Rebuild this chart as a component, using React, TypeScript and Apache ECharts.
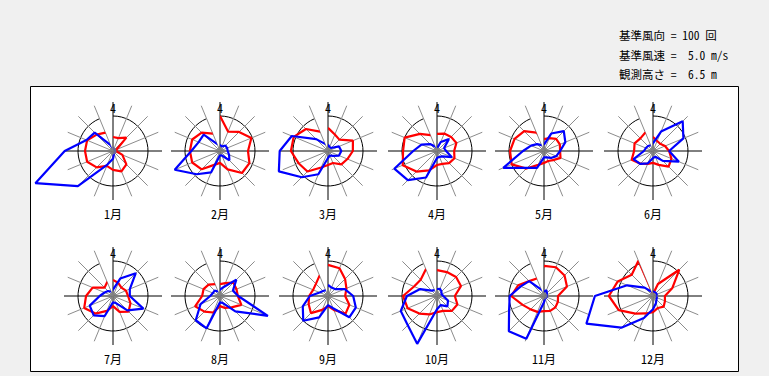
import React, { useEffect, useRef } from "react";
import * as echarts from "echarts";

const DIRS = ["N", "NNE", "NE", "ENE", "E", "ESE", "SE", "SSE", "S", "SSW", "SW", "WSW", "W", "WNW", "NW", "NNW"];
const MONTHS = ["1月", "2月", "3月", "4月", "5月", "6月", "7月", "8月", "9月", "10月", "11月", "12月"];
const NORTH_LABEL = "4";
const INFO_LINES = ["基準風向 = 100 回", "基準風速 =  5.0 m/s", "観測高さ =  6.5 m"];
const REF_FREQ = 100;
const REF_SPEED = 5.0;

// wind direction frequency (回)
const freq01 = [40, 40, 54, 11, 9, 29, 54, 63, 54, 46, 66, 80, 80, 80, 66, 57];
const freq02 = [100, 60, 77, 97, 80, 91, 89, 57, 34, 43, 74, 86, 86, 86, 74, 54];
const freq03 = [66, 51, 46, 77, 71, 60, 54, 37, 40, 51, 83, 91, 106, 106, 89, 60];
const freq04 = [49, 54, 57, 60, 49, 54, 49, 40, 40, 60, 83, 106, 97, 100, 69, 49];
const freq05 = [34, 40, 49, 49, 46, 51, 37, 31, 34, 43, 71, 100, 97, 91, 80, 57];
const freq06 = [40, 31, 29, 37, 46, 57, 63, 43, 34, 40, 51, 66, 54, 57, 51, 57];
const freq07 = [46, 40, 34, 40, 43, 54, 63, 49, 29, 46, 71, 89, 77, 63, 34, 43];
const freq08 = [34, 40, 54, 51, 51, 66, 46, 37, 29, 51, 63, 77, 51, 51, 46, 37];
const freq09 = [89, 86, 69, 57, 49, 66, 71, 43, 29, 43, 69, 60, 54, 46, 49, 63];
const freq10 = [74, 74, 77, 74, 51, 63, 60, 46, 46, 57, 71, 91, 97, 71, 66, 83];
const freq11 = [86, 89, 83, 71, 40, 43, 46, 46, 43, 49, 54, 66, 94, 80, 60, 54];
const freq12 = [6, 37, 106, 60, 34, 37, 43, 37, 46, 54, 71, 106, 126, 109, 86, 109];

// mean wind speed (m/s)
const speed01 = [0.3, 0.3, 0.3, 0.3, 0.3, 0.3, 0.3, 0.4, 1.1, 2.1, 7.1, 12.0, 6.9, 4.1, 3.7, 0.9];
const speed02 = [0.9, 0.7, 1.1, 1.1, 1.1, 1.4, 1.9, 0.7, 0.6, 3.3, 4.7, 7.0, 4.1, 3.3, 3.3, 1.1];
const speed03 = [0.9, 0.6, 0.6, 1.7, 1.9, 1.7, 1.0, 0.7, 1.0, 3.6, 5.3, 7.6, 6.9, 5.6, 2.4, 1.1];
const speed04 = [0.4, 1.4, 2.4, 1.1, 1.3, 2.3, 1.1, 0.9, 1.0, 4.1, 5.9, 6.6, 3.4, 2.4, 1.4, 0.7];
const speed05 = [0.9, 2.7, 4.0, 3.3, 2.3, 1.9, 1.4, 1.0, 0.9, 2.6, 3.4, 6.3, 3.0, 2.0, 1.4, 0.9];
const speed06 = [1.1, 3.0, 6.0, 4.7, 2.3, 4.0, 2.0, 0.9, 1.0, 1.9, 2.6, 3.0, 1.3, 1.1, 1.0, 0.9];
const speed07 = [0.9, 2.7, 4.6, 2.6, 2.4, 4.7, 2.9, 1.1, 0.9, 3.1, 3.9, 3.6, 1.9, 1.3, 1.0, 0.7];
const speed08 = [0.9, 1.4, 3.3, 2.0, 2.6, 7.4, 3.1, 1.1, 0.9, 5.0, 4.9, 3.0, 1.4, 1.1, 1.1, 0.7];
const speed09 = [1.6, 1.3, 1.4, 2.6, 3.6, 4.3, 4.3, 1.9, 1.3, 3.3, 5.0, 3.9, 2.6, 1.3, 1.0, 0.9];
const speed10 = [1.0, 1.1, 0.9, 0.7, 0.9, 1.7, 2.1, 1.4, 1.9, 7.4, 5.9, 5.6, 4.3, 2.6, 1.1, 0.9];
const speed11 = [0.6, 0.9, 0.6, 0.4, 0.4, 0.4, 0.4, 0.4, 0.9, 6.6, 7.1, 5.4, 4.9, 3.6, 3.0, 1.0];
const speed12 = [0.7, 0.6, 0.6, 0.6, 0.4, 0.6, 0.7, 1.1, 1.9, 3.4, 6.4, 10.3, 8.3, 4.0, 1.7, 0.7];

const FREQS = [freq01, freq02, freq03, freq04, freq05, freq06, freq07, freq08, freq09, freq10, freq11, freq12];
const SPEEDS = [speed01, speed02, speed03, speed04, speed05, speed06, speed07, speed08, speed09, speed10, speed11, speed12];

const FONT = "'Noto Sans Mono CJK JP', 'Noto Sans CJK JP', 'Noto Sans', sans-serif";

export default function App() {
  const ref = useRef<HTMLDivElement>(null);

  useEffect(() => {
    document.body.style.margin = "0";
    if (!ref.current) return;
    const chart = echarts.init(ref.current, null, { renderer: "svg" });

    const colX = [113, 220, 328, 437, 544, 653];
    const rowY = [151, 296];
    const R = 49; // spoke length (px)
    const REF_R = 35; // reference circle radius (px)
    const DATA_R = 120; // data polar radius (px)
    const DECO_MAX = (REF_FREQ * R) / REF_R;
    const DATA_MAX = (REF_FREQ * DATA_R) / REF_R;

    const polar: any[] = [];
    const angleAxis: any[] = [];
    const radiusAxis: any[] = [];
    const series: any[] = [];
    const graphic: any[] = [
      {
        type: "rect",
        z: 0,
        shape: { x: 30.5, y: 86.5, width: 708, height: 285 },
        style: { fill: "#ffffff", stroke: "#000000", lineWidth: 1 },
      },
    ];

    INFO_LINES.forEach((t, i) => {
      graphic.push({
        type: "text",
        z: 10,
        x: 619,
        y: 35 + i * 19.5,
        style: { text: t, fontSize: 11.5, fontFamily: FONT, fill: "#000", textVerticalAlign: "middle", textAlign: "left" },
      });
    });

    const spokeColors = DIRS.map((_, i) => (i % 4 === 0 ? "#000000" : "#8c8c8c"));

    // decoration polars (spokes + reference circle): indices 0..11
    MONTHS.forEach((m, k) => {
      const cx = colX[k % 6];
      const cy = rowY[Math.floor(k / 6)];
      polar.push({ center: [cx, cy], radius: R });
      angleAxis.push({
        polarIndex: k,
        type: "category",
        data: DIRS,
        startAngle: 90,
        clockwise: true,
        boundaryGap: false,
        axisLine: { show: false },
        axisTick: { show: false },
        axisLabel: { show: false },
        splitLine: { show: true, lineStyle: { color: spokeColors, width: 1 } },
      });
      radiusAxis.push({
        polarIndex: k,
        type: "value",
        min: 0,
        max: DECO_MAX,
        interval: REF_FREQ,
        axisLine: { show: false },
        axisTick: { show: false },
        axisLabel: { show: false },
        splitLine: { show: true, lineStyle: { color: ["rgba(0,0,0,0)", "#000000", "rgba(0,0,0,0)"], width: 1 } },
      });
      graphic.push({
        type: "text",
        z: 10,
        x: cx,
        y: cy - 44,
        style: { text: NORTH_LABEL, fontSize: 12, fontFamily: FONT, fill: "#000", textAlign: "center", textVerticalAlign: "middle" },
      });
      graphic.push({
        type: "text",
        z: 10,
        x: cx,
        y: cy + 62,
        style: { text: m, fontSize: 12, fontFamily: FONT, fill: "#000", textAlign: "center", textVerticalAlign: "middle" },
      });
    });

    // data polars: indices 12..23
    MONTHS.forEach((m, k) => {
      const cx = colX[k % 6];
      const cy = rowY[Math.floor(k / 6)];
      const pi = 12 + k;
      polar.push({ center: [cx, cy], radius: DATA_R });
      angleAxis.push({
        polarIndex: pi,
        type: "category",
        data: DIRS,
        startAngle: 90,
        clockwise: true,
        boundaryGap: false,
        axisLine: { show: false },
        axisTick: { show: false },
        axisLabel: { show: false },
        splitLine: { show: false },
        splitArea: { show: false },
      });
      radiusAxis.push({
        polarIndex: pi,
        type: "value",
        min: 0,
        max: DATA_MAX,
        axisLine: { show: false },
        axisTick: { show: false },
        axisLabel: { show: false },
        splitLine: { show: false },
        splitArea: { show: false },
      });
      const f = FREQS[k];
      const s = SPEEDS[k];
      const fd = f.map((v, i) => [v, DIRS[i]]);
      fd.push([f[0], DIRS[0]]);
      const sd = s.map((v, i) => [(v * REF_FREQ) / REF_SPEED, DIRS[i]]);
      sd.push([(s[0] * REF_FREQ) / REF_SPEED, DIRS[0]]);
      series.push({
        type: "line",
        name: "風向頻度 " + m,
        coordinateSystem: "polar",
        polarIndex: pi,
        data: fd,
        symbol: "none",
        clip: false,
        z: 3,
        lineStyle: { color: "#ff0000", width: 2.2 },
      });
      series.push({
        type: "line",
        name: "平均風速 " + m,
        coordinateSystem: "polar",
        polarIndex: pi,
        data: sd,
        symbol: "none",
        clip: false,
        z: 4,
        lineStyle: { color: "#0000ff", width: 2.2 },
      });
      series.push({
        type: "scatter",
        coordinateSystem: "polar",
        polarIndex: pi,
        data: [[0, DIRS[0]]],
        symbol: "circle",
        symbolSize: 7,
        z: 5,
        itemStyle: { color: "#808080" },
        silent: true,
      });
    });

    chart.setOption({
      animation: false,
      backgroundColor: "#f0f0f0",
      polar,
      angleAxis,
      radiusAxis,
      series,
      graphic,
    });

    return () => chart.dispose();
  }, []);

  return <div ref={ref} style={{ width: 769, height: 376, background: "#f0f0f0" }} />;
}
